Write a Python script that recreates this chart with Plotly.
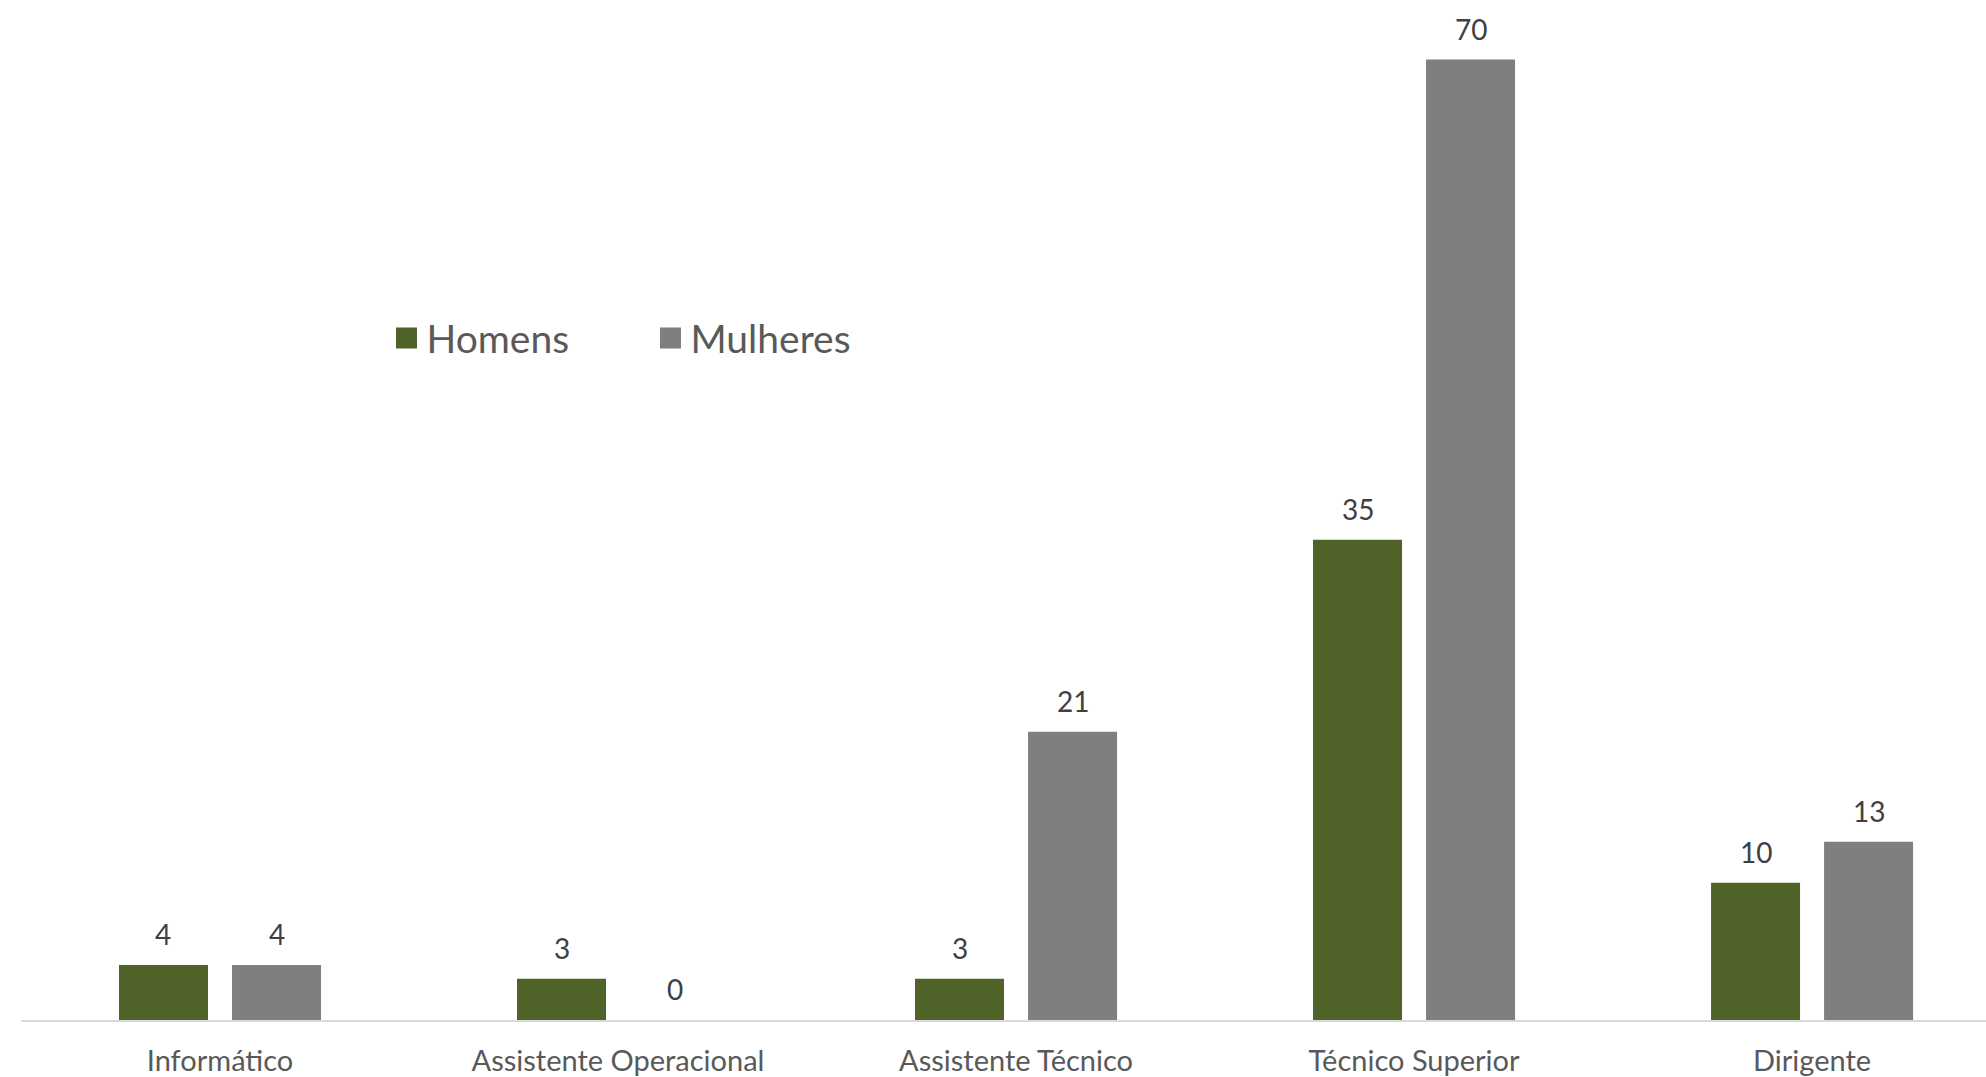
import plotly.graph_objects as go

# Headcount by job category and sex
categories = ["Informático", "Assistente Operacional", "Assistente Técnico",
              "Técnico Superior", "Dirigente"]
homens = [4, 3, 3, 35, 10]
mulheres = [4, 0, 21, 70, 13]
series_names = ["Homens", "Mulheres"]

GREEN = "#4F6228"
GREY = "#7F7F7F"
FONT = "Lato"

W, H = 1986, 1077
bar_w = 0.2236
x_idx = list(range(len(categories)))

fig = go.Figure()
fig.add_trace(go.Bar(
    x=x_idx, y=homens, name=series_names[0], marker_color=GREEN,
    width=bar_w, offset=-0.2538, marker_line_width=0, showlegend=False,
))
fig.add_trace(go.Bar(
    x=x_idx, y=mulheres, name=series_names[1], marker_color=GREY,
    width=bar_w, offset=0.0302, marker_line_width=0, showlegend=False,
))

# legend entries with large square swatches
for name, col in zip(series_names, (GREEN, GREY)):
    fig.add_trace(go.Scatter(
        x=[None], y=[None], mode="markers", name=name,
        marker=dict(symbol="square", size=23, color=col,
                    line=dict(color=col, width=7)),
    ))

# value labels above each bar
for vals, dx in ((homens, -0.142), (mulheres, 0.142)):
    for i, v in zip(x_idx, vals):
        fig.add_annotation(
            x=i + dx, y=v, text=str(v), showarrow=False,
            yanchor="bottom", yshift=12,
            font=dict(family=FONT, size=28, color="#404040"),
        )

fig.update_layout(
    width=W, height=H,
    margin=dict(l=21, r=0, t=0, b=57),
    paper_bgcolor="white", plot_bgcolor="white",
    barmode="overlay",
    showlegend=True,
    legend=dict(
        orientation="h", x=0.186, y=0.6686, xanchor="left", yanchor="middle",
        font=dict(family=FONT, size=39, color="#595959"),
        entrywidth=219, bgcolor="rgba(0,0,0,0)", itemsizing="trace",
    ),
    xaxis=dict(
        range=[-0.5, 4.437], tickmode="array", tickvals=x_idx, ticktext=categories,
        showline=True, linecolor="#D9D9D9", linewidth=1.5,
        showgrid=False, zeroline=False, ticks="", ticklabelstandoff=14,
        tickfont=dict(family=FONT, size=29, color="#595959"),
    ),
    yaxis=dict(
        range=[0, 74.34], showticklabels=False, showgrid=False,
        zeroline=False, showline=False, ticks="",
    ),
)

fig.write_html("out.html")
